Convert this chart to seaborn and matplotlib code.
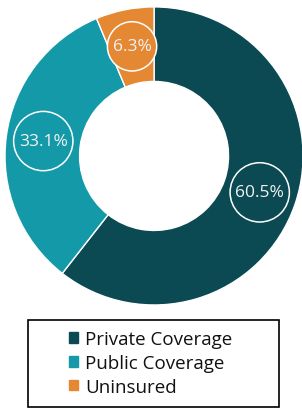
import matplotlib
matplotlib.use("Agg")
import matplotlib.pyplot as plt
import matplotlib.patches as mpatches
import seaborn as sns

categories = ["Private Coverage", "Public Coverage", "Uninsured"]
shares = [60.5, 33.1, 6.3]
palette = sns.color_palette(["#0B4953", "#1499A8", "#E48834"])

sns.set_theme(style="white")
plt.rcParams['font.family'] = ['Open Sans', 'DejaVu Sans']

fig = plt.figure(figsize=(3.02, 4.10), dpi=100)
ax = fig.add_axes([0.0166, 0.2537, 0.987, 0.727])

wedges, texts = ax.pie(
    shares, colors=palette, startangle=90, counterclock=False,
    labels=[f"{v:.1f}%" for v in shares], labeldistance=0.75,
    wedgeprops=dict(width=0.5, edgecolor="white", linewidth=1),
)
for t, c in zip(texts, palette):
    t.set_ha("center")
    t.set_va("center")
    t.set_color("#f2f2f2")
    t.set_fontsize(12.5)
    t.set_bbox(dict(boxstyle="circle,pad=0.3", fc=c, ec="white", lw=1.1))
ax.set_xlim(-1, 1)
ax.set_ylim(-1, 1)
ax.set_aspect("equal")

# legend frame
frame = mpatches.Rectangle((28 / 302, 2 / 410), 251 / 302, 87 / 410,
                           transform=fig.transFigure, fill=False,
                           ec="black", lw=1.2)
fig.patches.append(frame)

handles = [mpatches.Patch(color=c, label=l) for c, l in zip(palette, categories)]
leg = fig.legend(handles=handles, loc="center left", bbox_to_anchor=(69 / 302, 0.112),
                 frameon=False, fontsize=13.5, handlelength=0.5, handleheight=0.5,
                 handletextpad=0.35, labelspacing=0.3, borderpad=0, borderaxespad=0)
for t in leg.get_texts():
    t.set_color("#111111")

fig.savefig("out.png", dpi=100)
